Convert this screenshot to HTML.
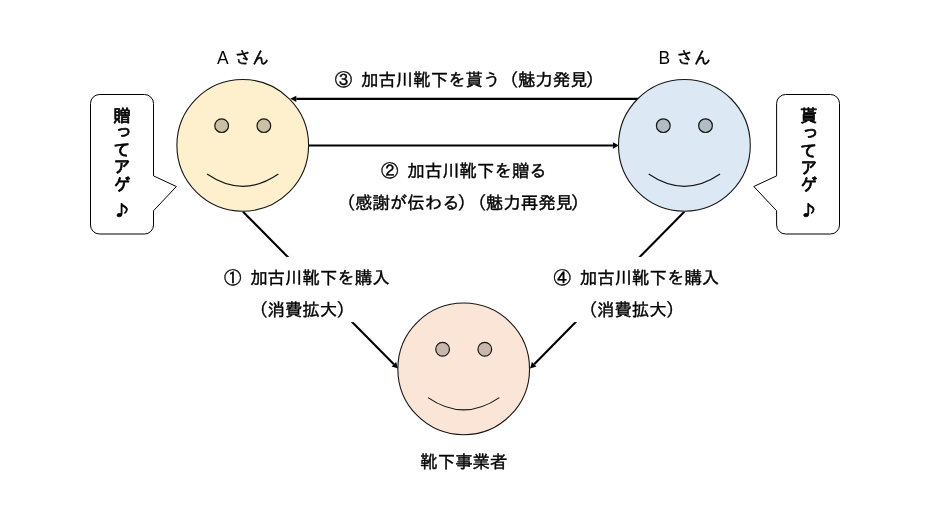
<!DOCTYPE html>
<html lang="ja"><head><meta charset="utf-8"><title>加古川靴下</title>
<style>
html,body{margin:0;padding:0;background:#fff;}
body{width:930px;height:523px;overflow:hidden;}
svg{display:block;will-change:transform;}
.t{font-family:"Liberation Sans","IPAGothic","Noto Sans CJK JP",sans-serif;font-size:17.44px;fill:#000;stroke:#000;stroke-width:0.38px;}
.l{font-family:"Liberation Sans",sans-serif;font-size:17.44px;fill:#000;stroke:none;}
.b{font-family:"Liberation Sans","IPAGothic","Noto Sans CJK JP",sans-serif;font-size:17.44px;font-weight:normal;fill:#000;stroke:#000;stroke-width:0.75px;stroke-linejoin:round;}
.n{font-family:"IPAGothic","Noto Sans CJK JP",sans-serif;font-size:15.8px;}
</style></head><body>
<svg width="930" height="523" viewBox="0 0 930 523">
<rect width="930" height="523" fill="#fff"/>
<line x1="243.00" y1="211.70" x2="393.88" y2="364.23" stroke="#000" stroke-width="2.1"/>
<polygon points="398.10,368.50 391.64,366.45 396.12,362.02" fill="#000"/>
<line x1="684.30" y1="211.70" x2="534.21" y2="364.22" stroke="#000" stroke-width="2.1"/>
<polygon points="530.00,368.50 531.96,362.01 536.45,366.43" fill="#000"/>
<rect x="215" y="256.9" width="185" height="65.2" fill="#fff"/>
<rect x="545" y="256.9" width="185" height="65.2" fill="#fff"/>
<line x1="640.00" y1="98.85" x2="296.30" y2="98.85" stroke="#000" stroke-width="2.1"/>
<polygon points="290.30,98.85 296.30,95.70 296.30,102.00" fill="#000"/>
<line x1="308.00" y1="145.50" x2="612.90" y2="145.50" stroke="#000" stroke-width="2.1"/>
<polygon points="618.90,145.50 612.90,148.65 612.90,142.35" fill="#000"/>
<circle cx="242.75" cy="145.35" r="65.85" fill="#fef0cd" stroke="#161616" stroke-width="1.1"/>
<circle cx="221.65" cy="125.66" r="6.86" fill="#cac0a4" stroke="#161616" stroke-width="1.2"/>
<circle cx="263.85" cy="125.66" r="6.86" fill="#cac0a4" stroke="#161616" stroke-width="1.2"/>
<path d="M207.06 174.07 Q242.75 198.58 278.36 174.07" fill="none" stroke="#161616" stroke-width="1.2"/>
<circle cx="684.4" cy="145.35" r="65.90" fill="#dde8f5" stroke="#161616" stroke-width="1.1"/>
<circle cx="663.29" cy="125.64" r="6.86" fill="#b2bcc4" stroke="#161616" stroke-width="1.2"/>
<circle cx="705.51" cy="125.64" r="6.86" fill="#b2bcc4" stroke="#161616" stroke-width="1.2"/>
<path d="M648.68 174.09 Q684.40 198.62 720.03 174.09" fill="none" stroke="#161616" stroke-width="1.2"/>
<circle cx="463.7" cy="368.9" r="65.85" fill="#fbe5d7" stroke="#161616" stroke-width="1.1"/>
<circle cx="442.60" cy="349.21" r="6.86" fill="#c8b7ac" stroke="#161616" stroke-width="1.2"/>
<circle cx="484.80" cy="349.21" r="6.86" fill="#c8b7ac" stroke="#161616" stroke-width="1.2"/>
<path d="M428.01 397.62 Q463.70 422.13 499.31 397.62" fill="none" stroke="#161616" stroke-width="1.2"/>
<path d="M99.50 94.5 H144.50 A9.00 9.00 0 0 1 153.5 103.50 V175.88 L176.4 186.5 L153.5 210.75 V225.00 A9.00 9.00 0 0 1 144.50 234 H99.50 A9.00 9.00 0 0 1 90.5 225.00 V103.50 A9.00 9.00 0 0 1 99.50 94.5 Z" fill="#fff" stroke="#000" stroke-width="1" stroke-linejoin="miter"/>
<path d="M785.60 94.5 H830.50 A9.00 9.00 0 0 1 839.5 103.50 V225.00 A9.00 9.00 0 0 1 830.50 234 H785.60 A9.00 9.00 0 0 1 776.6 225.00 V210.75 L753.8 186.5 L776.6 175.88 V103.50 A9.00 9.00 0 0 1 785.60 94.5 Z" fill="#fff" stroke="#000" stroke-width="1" stroke-linejoin="miter"/>
<text y="64" x="217.1 228.70 234.20 251.64" class="t"><tspan class="l">A</tspan> さん</text>
<text y="64" x="658.5 670.10 676.00 693.44" class="t"><tspan class="l">B</tspan> さん</text>
<text x="334.80 352.24 360.96 378.40 395.84 413.28 430.72 448.16 465.60 483.04 501.08 517.92 535.36 552.80 570.24 585.68" y="86" class="t">③ 加古川靴下を貰う（魅力発見）</text>
<text x="381.10 398.54 407.26 424.70 442.14 459.58 477.02 494.46 511.90 529.34" y="176.8" class="t">② 加古川靴下を贈る</text>
<text x="338.10 354.94 372.38 389.82 407.26 424.70 442.14 457.58 469.00 485.84 503.28 520.72 538.16 555.60 570.84" y="208.6" class="t">（感謝が伝わる）（魅力再発見）</text>
<text x="224.00 241.44 250.16 267.60 285.04 302.48 319.92 337.36 354.80 372.24" y="284.4" class="t">① 加古川靴下を購入</text>
<text x="250.60 267.44 284.88 302.32 319.76 336.60" y="315.8" class="t">（消費拡大）</text>
<text x="553.60 571.04 579.76 597.20 614.64 632.08 649.52 666.96 684.40 701.84" y="284.3" class="t">④ 加古川靴下を購入</text>
<text x="580.10 596.94 614.38 631.82 649.26 666.10" y="315.8" class="t">（消費拡大）</text>
<text x="420.30 437.74 455.18 472.62 490.06" y="467.7" class="t">靴下事業者</text>
<text x="122.00 124.00 122.00 122.00 122.00 122.00 122.00" y="121.50 137.30 156.10 173.40 190.70 190.70 216.00" class="b" text-anchor="middle">贈ってアゲ <tspan class="n">♪</tspan></text>
<text x="808.70 810.70 808.70 808.70 808.70 808.70 808.70" y="122.30 138.20 156.50 173.80 191.10 191.10 216.40" class="b" text-anchor="middle">貰ってアゲ <tspan class="n">♪</tspan></text>
</svg>
</body></html>
